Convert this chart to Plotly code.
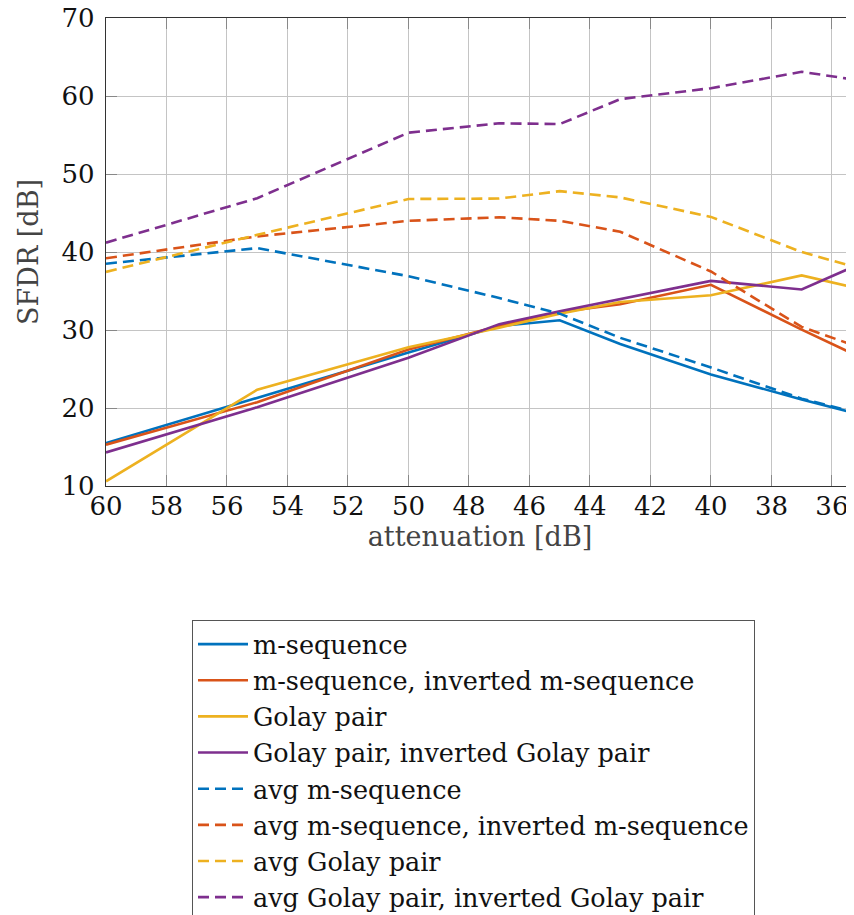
import plotly.graph_objects as go

# attenuation values [dB]
attenuation = [60, 55, 50, 47, 45, 43, 40, 37, 35]

# SFDR [dB]
m_sequence = [15.5, 21.35, 27.1, 30.5, 31.25, 28.2, 24.3, 21.1, 19.1]
m_sequence_inv = [15.3, 20.75, 27.5, 30.5, 32.3, 33.3, 35.8, 30.05, 26.4]
golay = [10.6, 22.35, 27.8, 30.3, 32.1, 33.6, 34.45, 37.0, 35.2]
golay_inv = [14.3, 20.1, 26.45, 30.75, 32.4, 33.95, 36.3, 35.2, 38.6]
avg_m_sequence = [38.5, 40.5, 36.9, 34.1, 32.1, 29.0, 25.2, 21.2, 19.2]
avg_m_sequence_inv = [39.2, 42.0, 44.0, 44.45, 44.0, 42.6, 37.5, 30.4, 27.65]
avg_golay = [37.45, 42.2, 46.8, 46.85, 47.8, 47.0, 44.5, 40.0, 37.8]
avg_golay_inv = [41.2, 46.9, 55.3, 56.5, 56.4, 59.6, 61.0, 63.1, 61.95]

names = [
    "m-sequence",
    "m-sequence, inverted m-sequence",
    "Golay pair",
    "Golay pair, inverted Golay pair",
    "avg m-sequence",
    "avg m-sequence, inverted m-sequence",
    "avg Golay pair",
    "avg Golay pair, inverted Golay pair",
]
series = [m_sequence, m_sequence_inv, golay, golay_inv,
          avg_m_sequence, avg_m_sequence_inv, avg_golay, avg_golay_inv]
colors = ["#0072BD", "#D95319", "#EDB120", "#7E2F8E"]

FONT = "DejaVu Serif"

fig = go.Figure()
for i, (name, ys) in enumerate(zip(names, series)):
    dashed = i >= 4
    fig.add_trace(go.Scatter(
        x=attenuation, y=ys, name=name, mode="lines",
        line=dict(color=colors[i % 4], width=2.6,
                  dash="11px,6px" if dashed else "solid"),
    ))

# the page body adds an 8px offset; figure is sized to end at the window edge
W, H = 846, 907
ML, MT = 98, 10
PW, PH = 748, 468

fig.update_layout(
    width=W, height=H,
    margin=dict(l=ML, r=W - ML - PW, t=MT, b=H - MT - PH, autoexpand=False),
    paper_bgcolor="white", plot_bgcolor="white",
    font=dict(family=FONT, size=26, color="#111"),
    showlegend=True,
    legend=dict(
        x=(184 - ML) / PW, y=(MT + PH - 612) / PH,
        xanchor="left", yanchor="top",
        bordercolor="#555", borderwidth=1, bgcolor="white",
        font=dict(family=FONT, size=25.5, color="#111"),
        itemwidth=50, maxheight=700,
        tracegroupgap=0,
    ),
)

fig.update_xaxes(
    range=[60, 35.27], autorange=False,
    tickmode="array", tickvals=list(range(60, 35, -2)),
    ticks="inside", ticklen=11, tickcolor="#888", tickwidth=1,
    showgrid=True, gridcolor="#c4c4c4", gridwidth=1,
    showline=True, linecolor="#333", linewidth=1.3, mirror="ticks",
    zeroline=False, ticklabelstandoff=-3, ticklabeloverflow="allow",
    tickfont=dict(family=FONT, size=26, color="#111"),
    title=dict(text="attenuation [dB]", font=dict(family=FONT, size=27, color="#444"), standoff=6),
)
fig.update_yaxes(
    range=[10, 70], autorange=False,
    tickmode="array", tickvals=list(range(10, 71, 10)),
    ticks="inside", ticklen=11, tickcolor="#888", tickwidth=1,
    showgrid=True, gridcolor="#c4c4c4", gridwidth=1,
    showline=True, linecolor="#333", linewidth=1.3, mirror=False,
    zeroline=False, ticklabelstandoff=5, ticklabeloverflow="allow",
    tickfont=dict(family=FONT, size=26, color="#111"),
    title=dict(text="SFDR [dB]", font=dict(family=FONT, size=27, color="#444"), standoff=15),
)

fig.write_html("out.html")
